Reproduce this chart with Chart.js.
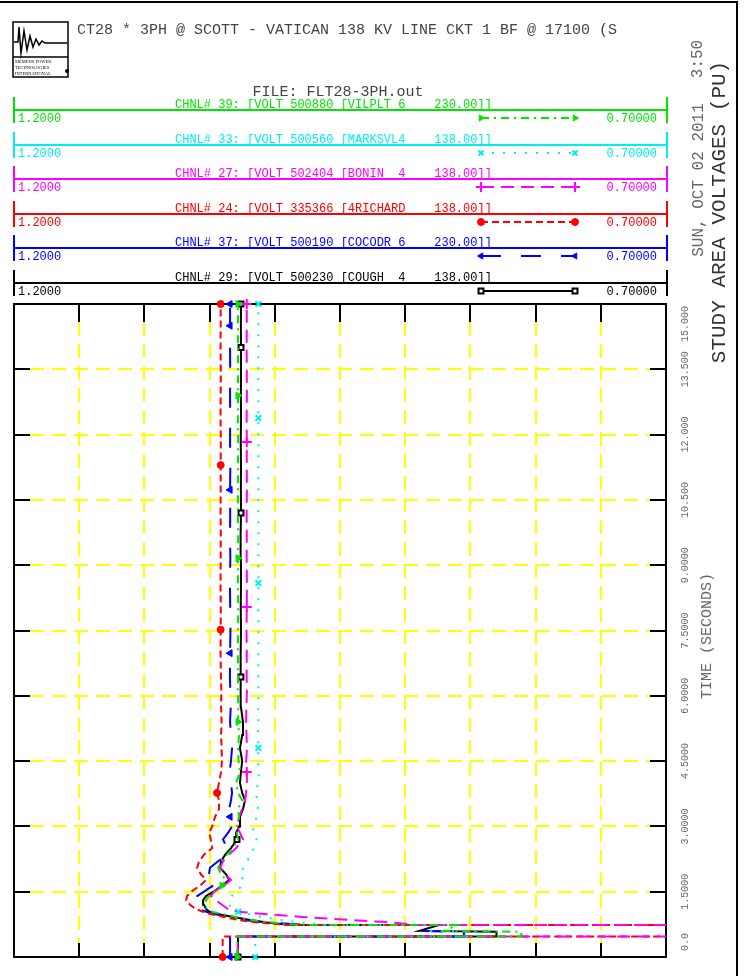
<!DOCTYPE html>
<html>
<head>
<meta charset="utf-8">
<style>
  html, body { margin: 0; padding: 0; background: #fff; }
  canvas { display: block; }
</style>
<script src="https://cdn.jsdelivr.net/npm/chart.js@4/dist/chart.umd.min.js"></script>
</head>
<body>
<canvas id="plot" width="746" height="976"></canvas>
<script>
// time axis (seconds) shared by every channel
const timeSec = [
  0, 0.47, 0.4701, 0.58, 0.6, 0.735, 0.7351, 0.8, 0.85, 0.92,
  1.0, 1.04, 1.1, 1.2, 1.3, 1.4, 1.5, 1.64, 1.77, 1.9,
  2.05, 2.2, 2.35, 2.5, 2.7, 2.85, 3.0, 3.22, 3.4, 3.6,
  3.77, 4.0, 4.25, 4.5, 4.8, 5.1, 5.4, 5.75, 6.1, 6.43,
  6.98, 7.52, 8.04, 8.59, 9.16, 9.7, 10.2, 10.73, 11.3, 11.83,
  12.38, 12.9, 13.5, 14.0, 14.5, 15.0,
];

// bus voltages (pu); values below 0.70 run off the right edge
const voltCh39 = [
  1.0287, 1.0287, 0.811, 0.811, 0.870, 0.860, 0.982, 1.0052, 1.0175, 1.0297,
  1.0428, 1.048, 1.052, 1.0535, 1.0527, 1.0504, 1.0458, 1.0405, 1.0374, 1.0412,
  1.0435, 1.0412, 1.0367, 1.032, 1.0282, 1.029, 1.029, 1.0274, 1.0282, 1.025,
  1.0282, 1.0297, 1.0267, 1.0278, 1.0282, 1.0274, 1.0282, 1.0280, 1.0284, 1.0281,
  1.0283, 1.0282, 1.0281, 1.0283, 1.0282, 1.0281, 1.0283, 1.0282, 1.0282, 1.0281,
  1.0283, 1.0282, 1.0282, 1.0282, 1.0282, 1.0282,
];
const voltCh33 = [
  1.015, 1.015, 0.843, 0.843, 0.880, 0.875, 0.960, 0.981, 0.996, 1.010,
  1.022, 1.028, 1.033, 1.035, 1.034, 1.033, 1.030, 1.025, 1.024, 1.027,
  1.024, 1.021, 1.019, 1.016, 1.014, 1.017, 1.016, 1.014, 1.013, 1.0136,
  1.0144, 1.0129, 1.0121, 1.0129, 1.0126, 1.0128, 1.0125, 1.0127, 1.0125, 1.0127,
  1.0126, 1.0125, 1.0127, 1.0126, 1.0126, 1.0125, 1.0127, 1.0126, 1.0126, 1.0125,
  1.0126, 1.0126, 1.0127, 1.0126, 1.0126, 1.0126,
];
const voltCh27 = [
  1.0285, 1.0285, 0.60, 0.60, 0.60, 0.60, 0.891, 0.913, 0.9423, 0.979,
  1.0129, 1.0282, 1.0359, 1.0405, 1.045, 1.0489, 1.0466, 1.039, 1.0336, 1.0382,
  1.042, 1.0397, 1.0351, 1.0297, 1.0244, 1.0267, 1.029, 1.0274, 1.0251, 1.0228,
  1.022, 1.0213, 1.0215, 1.022, 1.0213, 1.0217, 1.022, 1.0218, 1.0214, 1.0216,
  1.0215, 1.0217, 1.0215, 1.0214, 1.0216, 1.0215, 1.0216, 1.0214, 1.0215, 1.0215,
  1.0216, 1.0214, 1.0215, 1.0216, 1.0215, 1.0215,
];
const voltCh24 = [
  1.040, 1.040, 0.60, 0.60, 0.60, 0.60, 0.990, 1.015, 1.028, 1.039,
  1.051, 1.055, 1.0604, 1.065, 1.068, 1.0673, 1.0642, 1.0573, 1.0527, 1.0566,
  1.0596, 1.058, 1.0543, 1.048, 1.049, 1.0504, 1.048, 1.0458, 1.0428, 1.0428,
  1.0443, 1.0428, 1.0412, 1.0405, 1.0408, 1.0412, 1.0408, 1.0412, 1.0410, 1.0413,
  1.0416, 1.0415, 1.0414, 1.0416, 1.0415, 1.0414, 1.0416, 1.0415, 1.0415, 1.0414,
  1.0416, 1.0415, 1.0414, 1.0416, 1.0415, 1.0415,
];
const voltCh37 = [
  1.0343, 1.0343, 0.855, 0.855, 0.894, 0.888, 0.975, 1.0098, 1.0228, 1.0359,
  1.048, 1.0527, 1.058, 1.0627, 1.0627, 1.0596, 1.0543, 1.0474, 1.0428, 1.0505,
  1.0497, 1.0435, 1.0359, 1.0367, 1.0397, 1.0359, 1.0328, 1.0343, 1.035, 1.0336,
  1.0328, 1.0336, 1.0347, 1.0336, 1.0328, 1.0336, 1.0343, 1.0338, 1.0341, 1.0344,
  1.0343, 1.0340, 1.0342, 1.0344, 1.0341, 1.0343, 1.0342, 1.0343, 1.0341, 1.0343,
  1.0342, 1.0343, 1.0342, 1.0343, 1.0343, 1.0343,
];
const voltCh29 = [
  1.0282, 1.0282, 0.830, 0.830, 0.889, 0.874, 0.988, 1.0075, 1.019, 1.032,
  1.0458, 1.050, 1.0527, 1.0543, 1.055, 1.0527, 1.047, 1.0405, 1.035, 1.0374,
  1.042, 1.0412, 1.038, 1.0336, 1.029, 1.0297, 1.0274, 1.0267, 1.0244, 1.0228,
  1.025, 1.0267, 1.026, 1.025, 1.0267, 1.025, 1.0244, 1.0260, 1.0263, 1.0260,
  1.0262, 1.0259, 1.0261, 1.0259, 1.0260, 1.0262, 1.0259, 1.0260, 1.0259, 1.0261,
  1.0259, 1.0260, 1.0259, 1.0259, 1.0260, 1.0259,
];

// times at which each channel carries its symbol
const marksCh39 = [0, 1.64, 5.4, 9.16, 12.9, 15.0];
const marksCh33 = [0, 1.04, 4.8, 8.59, 12.38, 15.0];
const marksCh27 = [4.25, 8.04, 11.83, 15.0];
const marksCh24 = [0, 3.77, 7.52, 11.3, 15.0];
const marksCh37 = [0, 3.22, 6.98, 10.73, 14.5, 15.0];
const marksCh29 = [0, 2.7, 6.43, 10.2, 14.0, 15.0];

const channelLabels = [
  'CHNL# 39: [VOLT 500880 [VILPLT 6    230.00]]',
  'CHNL# 33: [VOLT 500560 [MARKSVL4    138.00]]',
  'CHNL# 27: [VOLT 502404 [BONIN  4    138.00]]',
  'CHNL# 24: [VOLT 335366 [4RICHARD    138.00]]',
  'CHNL# 37: [VOLT 500190 [COCODR 6    230.00]]',
  'CHNL# 29: [VOLT 500230 [COUGH  4    138.00]]',
];

const voltGrid = [1.2, 1.15, 1.1, 1.05, 1.0, 0.95, 0.9, 0.85, 0.8, 0.75, 0.7];
const timeTicks = [0, 1.5, 3, 4.5, 6, 7.5, 9, 10.5, 12, 13.5, 15];
const timeTickLabels = ['0.0', '1.5000', '3.0000', '4.5000', '6.0000', '7.5000',
  '9.0000', '10.500', '12.000', '13.500', '15.000'];

const MONO = '"Liberation Mono", "DejaVu Sans Mono", monospace';

const toPoints = (volts) => volts.map((v, i) => ({ x: v, y: timeSec[i] }));

const channel = (label, volts, marks, style) => ({
  label,
  data: toPoints(volts),
  showLine: true,
  borderColor: style.color,
  borderWidth: 2,
  borderDash: style.dash,
  pointStyle: style.symbol,
  pointRotation: style.rotation || 0,
  pointBackgroundColor: style.fill || style.color,
  pointBorderColor: style.color,
  pointBorderWidth: style.symbolWidth || 1,
  pointRadius: (ctx) => (marks.includes(timeSec[ctx.dataIndex]) ? style.size : 0),
  tension: 0,
  order: style.order || 1,
  clip: { left: 0, right: 0, top: 8, bottom: 8 },
});

const datasets = [
  channel(channelLabels[0], voltCh39, marksCh39,
    { color: '#00e600', dash: [8, 5, 2, 5], symbol: 'triangle', rotation: 90, size: 4 }),
  channel(channelLabels[1], voltCh33, marksCh33,
    { color: '#00eeee', dash: [2, 9], symbol: 'crossRot', size: 4, symbolWidth: 2 }),
  channel(channelLabels[2], voltCh27, marksCh27,
    { color: '#ff00ff', dash: [13, 7], symbol: 'cross', size: 5, symbolWidth: 2 }),
  channel(channelLabels[3], voltCh24, marksCh24,
    { color: '#ff0000', dash: [7, 4], symbol: 'circle', size: 3.5 }),
  channel(channelLabels[4], voltCh37, marksCh37,
    { color: '#0000ff', dash: [20, 20], symbol: 'triangle', rotation: -90, size: 4 }),
  channel(channelLabels[5], voltCh29, marksCh29,
    { color: '#000000', dash: [], symbol: 'rect', size: 3.5, fill: '#ffffff', symbolWidth: 2, order: 0 }),
];

const line = (ctx, x1, y1, x2, y2) => {
  ctx.beginPath();
  ctx.moveTo(x1, y1);
  ctx.lineTo(x2, y2);
  ctx.stroke();
};

const rotatedText = (ctx, text, cx, cy, font, color) => {
  ctx.save();
  ctx.translate(cx, cy);
  ctx.rotate(-Math.PI / 2);
  ctx.font = font;
  ctx.fillStyle = color;
  ctx.textAlign = 'center';
  ctx.textBaseline = 'middle';
  ctx.fillText(text, 0, 0);
  ctx.restore();
};

const frame = {
  id: 'frame',
  beforeDatasetsDraw(chart) {
    const { ctx, chartArea: a, scales: { x, y } } = chart;
    ctx.save();
    ctx.lineWidth = 2;
    ctx.strokeStyle = '#ffff00';
    ctx.setLineDash([14, 8]);
    voltGrid.slice(1, -1).forEach((v) => {
      const px = Math.round(x.getPixelForValue(v));
      line(ctx, px, a.top + 18, px, a.bottom - 14);
    });
    timeTicks.slice(1, -1).forEach((t) => {
      const py = Math.round(y.getPixelForValue(t));
      line(ctx, a.left + 16, py, a.right - 16, py);
    });
    ctx.setLineDash([]);
    ctx.strokeStyle = '#000';
    voltGrid.slice(1, -1).forEach((v) => {
      const px = Math.round(x.getPixelForValue(v));
      line(ctx, px, a.top, px, a.top + 18);
      line(ctx, px, a.bottom, px, a.bottom - 14);
    });
    timeTicks.slice(1, -1).forEach((t) => {
      const py = Math.round(y.getPixelForValue(t));
      line(ctx, a.left, py, a.left + 16, py);
      line(ctx, a.right, py, a.right - 16, py);
    });
    ctx.strokeRect(a.left, a.top, a.right - a.left, a.bottom - a.top);
    ctx.restore();
  },
  afterDraw(chart) {
    const { ctx, chartArea: a, scales: { y } } = chart;
    ctx.save();

    // sheet border
    ctx.strokeStyle = '#000';
    ctx.lineWidth = 2;
    line(ctx, 0, 2, 738, 2);
    line(ctx, 737, 2, 737, 976);

    // logo
    ctx.lineWidth = 1.5;
    ctx.strokeRect(13, 22, 55, 55);
    line(ctx, 13, 57, 68, 57);
    ctx.beginPath();
    [[14, 42], [18, 42], [19, 27], [21, 53], [24, 31], [27, 50], [30, 36], [33, 47],
      [36, 39], [39, 45], [42, 41], [45, 43], [67, 43]].forEach(([px, py], i) => {
      if (i === 0) ctx.moveTo(px, py); else ctx.lineTo(px, py);
    });
    ctx.stroke();
    ctx.fillStyle = '#000';
    ctx.font = '4.5px "Liberation Serif", serif';
    ctx.fillText('SIEMENS POWER', 15, 63);
    ctx.fillText('TECHNOLOGIES', 15, 68.5);
    ctx.fillText('INTERNATIONAL', 15, 75);
    ctx.beginPath();
    ctx.arc(67, 71, 2, 0, Math.PI * 2);
    ctx.fill();

    // titles
    ctx.fillStyle = '#444';
    ctx.font = `15px ${MONO}`;
    ctx.textBaseline = 'alphabetic';
    ctx.fillText('CT28 * 3PH @ SCOTT - VATICAN 138 KV LINE CKT 1 BF @ 17100 (S', 77, 34);
    ctx.textAlign = 'center';
    ctx.fillText('FILE: FLT28-3PH.out', 338, 96);

    // channel legend
    chart.data.datasets.forEach((ds, i) => {
      const ly = Math.round(110 + i * 34.6);
      const c = ds.borderColor;
      ctx.strokeStyle = c;
      ctx.fillStyle = c;
      ctx.lineWidth = 2;
      ctx.setLineDash([]);
      line(ctx, 14, ly, 667, ly);
      line(ctx, 14, ly - 13, 14, ly + 13);
      line(ctx, 667, ly - 13, 667, ly + 13);
      ctx.font = `12px ${MONO}`;
      ctx.textAlign = 'left';
      ctx.fillText(ds.label, 175, ly - 2);
      ctx.fillText('1.2000', 18, ly + 12);
      ctx.textAlign = 'right';
      ctx.fillText('0.70000', 657, ly + 12);
      ctx.setLineDash(ds.borderDash);
      line(ctx, 481, ly + 8, 575, ly + 8);
      ctx.setLineDash([]);
      [481, 575].forEach((px) => {
        ctx.fillStyle = ds.pointBackgroundColor;
        ctx.strokeStyle = c;
        ctx.lineWidth = ds.pointBorderWidth;
        Chart.helpers.drawPoint(ctx, {
          pointStyle: ds.pointStyle,
          rotation: ds.pointRotation,
          radius: ds.pointStyle === 'cross' ? 5 : 3.5,
          borderWidth: ds.pointBorderWidth,
        }, px, ly + 8);
      });
    });

    // right-hand texts
    rotatedText(ctx, 'STUDY AREA VOLTAGES (PU)', 719, 212, `21px ${MONO}`, '#333');
    rotatedText(ctx, '3:50', 698, 59, `16px ${MONO}`, '#666');
    rotatedText(ctx, 'SUN, OCT 02 2011', 699, 180, `16px ${MONO}`, '#666');
    rotatedText(ctx, 'TIME (SECONDS)', 707, 636, `15px ${MONO}`, '#666');

    // time tick labels
    ctx.font = `10px ${MONO}`;
    timeTicks.forEach((t, i) => {
      const label = timeTickLabels[i];
      const w = ctx.measureText(label).width;
      let cy = y.getPixelForValue(t);
      cy = Math.min(cy, a.bottom - 6 - w / 2);
      cy = Math.max(cy, a.top + 2 + w / 2);
      rotatedText(ctx, label, 685, cy, `10px ${MONO}`, '#666');
    });
    ctx.restore();
  },
};

new Chart(document.getElementById('plot'), {
  type: 'scatter',
  data: { datasets },
  options: {
    responsive: false,
    animation: false,
    devicePixelRatio: 1,
    layout: { padding: { left: 14, right: 80, top: 304, bottom: 19 } },
    plugins: { legend: { display: false }, tooltip: { enabled: false } },
    scales: {
      x: { type: 'linear', min: 0.7, max: 1.2, reverse: true, display: false },
      y: { type: 'linear', min: 0, max: 15, display: false },
    },
  },
  plugins: [frame],
});
</script>
</body>
</html>
